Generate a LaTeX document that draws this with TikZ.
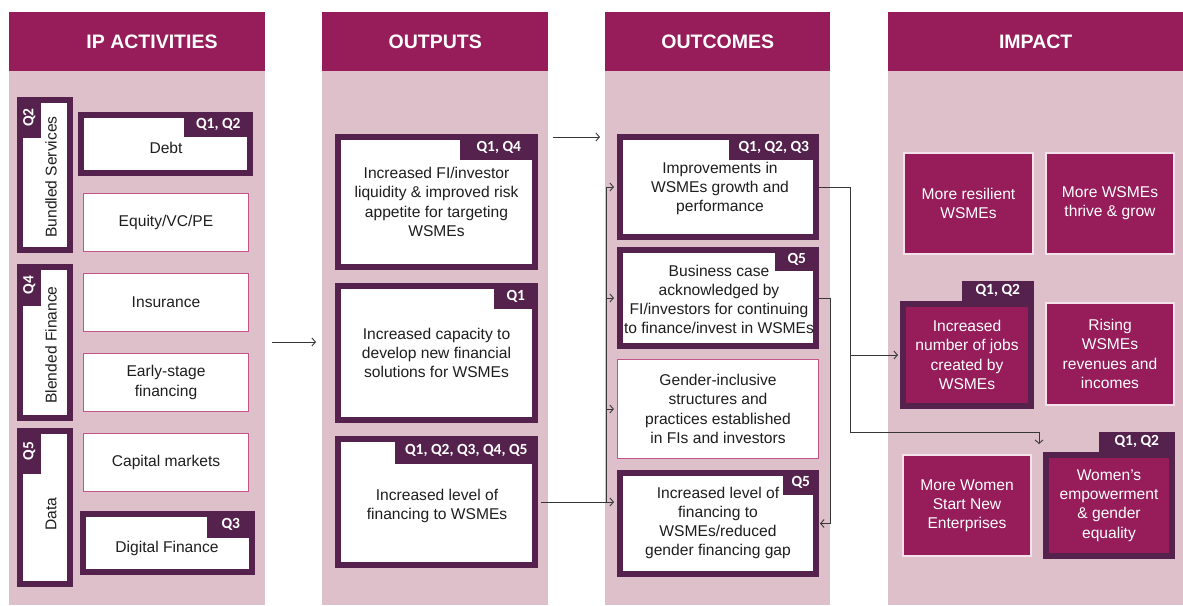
\documentclass[tikz,border=0pt]{standalone}
\usepackage{fontspec}
\usepackage{graphicx}
\setmainfont{Liberation Sans}
\newfontfamily\tabfont{Carlito}
\usetikzlibrary{arrows.meta}

\definecolor{hdrmag}{RGB}{150,28,90}
\definecolor{bodypink}{RGB}{222,192,202}
\definecolor{framedark}{RGB}{85,34,77}
\definecolor{boxedge}{RGB}{196,85,138}
\definecolor{linegray}{RGB}{55,55,55}
\definecolor{txtdark}{RGB}{30,30,30}
\definecolor{impedge}{RGB}{245,225,235}

\newcommand\bxfont{\fontsize{15.6}{19.2}\selectfont}
\newcommand\qfont{\tabfont\bfseries\fontsize{15.5}{17}\selectfont}

\tikzset{
  colbody/.style={fill=bodypink, draw=none, anchor=north west, inner sep=0pt},
  hdr/.style={fill=hdrmag, draw=none, anchor=north west, inner sep=0pt, minimum height=59pt},
  hdrtxt/.style={text=white, font=\fontsize{19.5}{22}\selectfont\bfseries, inner sep=0pt},
  fbox/.style={fill=white, draw=framedark, line width=6pt, inner sep=0pt, align=center, text=txtdark, font=\bxfont},
  wbox/.style={fill=white, draw=boxedge, line width=1.2pt, inner sep=0pt, align=center, text=txtdark, font=\bxfont, minimum width=165pt, minimum height=58pt},
  txt/.style={text=txtdark, font=\bxfont, align=center, inner sep=0pt},
  qtab/.style={fill=framedark, inner sep=0pt, text=white, font=\qfont, anchor=north east},
  vtab/.style={fill=framedark, inner sep=0pt, text=white, font=\qfont, anchor=north west, minimum width=24pt},
  imp/.style={fill=hdrmag, draw=impedge, line width=1.2pt, inner sep=0pt, align=center, text=white, font=\bxfont},
  ifbox/.style={fill=hdrmag, draw=framedark, line width=6pt, inner sep=0pt, align=center, text=white, font=\bxfont},
  ln/.style={draw=linegray, line width=0.9pt},
  arr/.style={draw=linegray, line width=0.9pt, -{Straight Barb[length=3.5pt,width=8pt]}},
}

\begin{document}
\begin{tikzpicture}[x=1pt, y=-1pt]
\useasboundingbox (0,0) rectangle (1183,605);

% column bodies and headers
\node[colbody, minimum width=256pt, minimum height=534pt] (colA) at (9,71) {};
\node[colbody, minimum width=226pt, minimum height=534pt] (colB) at (322,71) {};
\node[colbody, minimum width=225pt, minimum height=534pt] (colC) at (605,71) {};
\node[colbody, minimum width=295pt, minimum height=534pt] (colD) at (888,71) {};
\node[hdr, minimum width=256pt] (hA) at (9,12) {};
\node[hdr, minimum width=226pt] (hB) at (322,12) {};
\node[hdr, minimum width=225pt] (hC) at (605,12) {};
\node[hdr, minimum width=295pt] (hD) at (888,12) {};
\node[hdrtxt] (hAt) at (152,42) {IP ACTIVITIES};
\node[hdrtxt] (hBt) at (hB.center) {OUTPUTS};
\node[hdrtxt] (hCt) at (hC.center) {OUTCOMES};
\node[hdrtxt] (hDt) at (hD.center) {IMPACT};

% activity groups (vertical)
\node[fbox, minimum width=50pt, minimum height=150pt] (bs) at (45,175) {};
\node[fbox, minimum width=50pt, minimum height=151pt] (bf) at (45,342.5) {};
\node[fbox, minimum width=50pt, minimum height=153pt] (dt) at (45,507.5) {};
\node[vtab, minimum height=41pt] (bsq) at (bs.north west) {\rotatebox{90}{Q2}};
\node[vtab, minimum height=42pt] (bfq) at (bf.north west) {\rotatebox{90}{Q4}};
\node[vtab, minimum height=46pt] (dtq) at (dt.north west) {\rotatebox{90}{Q5}};
\node[txt, rotate=90] (bsT) at (51,177) {Bundled Services};
\node[txt, rotate=90] (bfT) at (51,345) {Blended Finance};
\node[txt, rotate=90] (dtT) at (51,514) {Data};

% activities
\node[fbox, minimum width=169pt, minimum height=58pt] (debt) at (165.5,144) {};
\node[qtab, minimum width=69pt, minimum height=25pt] (debtq) at (debt.north east) {Q1, Q2};
\node[txt] (debtT) at (166,148) {Debt};
\node[wbox] (equity) at (166,222.5) {Equity/VC/PE};
\node[wbox] (insur) at (166,302.5) {Insurance};
\node[wbox] (early) at (166,382.5) {Early-stage\\financing};
\node[wbox] (capm) at (166,462.5) {Capital markets};
\node[fbox, minimum width=169pt, minimum height=58pt] (digi) at (167.5,543) {};
\node[qtab, minimum width=48pt, minimum height=27pt] (digiq) at (digi.north east) {Q3};
\node[txt] (digiT) at (167,548) {Digital Finance};

% outputs
\node[fbox, minimum width=197pt, minimum height=130pt] (o1) at (436.5,202)
  {Increased FI/investor\\liquidity \& improved risk\\appetite for targeting\\WSMEs};
\node[qtab, minimum width=78pt, minimum height=26pt] (o1q) at (o1.north east) {Q1, Q4};
\node[fbox, minimum width=197pt, minimum height=134pt] (o2) at (436.5,353)
  {Increased capacity to\\develop new financial\\solutions for WSMEs};
\node[qtab, minimum width=44pt, minimum height=26pt] (o2q) at (o2.north east) {Q1};
\node[fbox, minimum width=197pt, minimum height=126pt] (o3) at (436.5,502) {};
\node[qtab, minimum width=143pt, minimum height=28pt] (o3q) at (o3.north east) {Q1, Q2, Q3, Q4, Q5};
\node[txt] (o3T) at (437,506) {Increased level of\\financing to WSMEs};

% outcomes
\node[fbox, minimum width=196pt, minimum height=100pt] (c1) at (718,187) {};
\node[qtab, minimum width=90pt, minimum height=26pt] (c1q) at (c1.north east) {Q1, Q2, Q3};
\node[txt] (c1T) at (720,188.5) {Improvements in\\WSMEs growth and\\performance};
\node[fbox, minimum width=196pt, minimum height=96pt] (c2) at (718,298) {};
\node[qtab, minimum width=44pt, minimum height=24pt] (c2q) at (c2.north east) {Q5};
\node[txt] (c2T) at (719,299.5) {Business case\\acknowledged by\\FI/investors for continuing\\to finance/invest in WSMEs};
\node[wbox, minimum width=201pt, minimum height=99pt] (c3) at (718,409)
  {Gender-inclusive\\structures and\\practices established\\in FIs and investors};
\node[fbox, minimum width=196pt, minimum height=101pt] (c4) at (718,523.5) {};
\node[qtab, minimum width=36pt, minimum height=25pt] (c4q) at (c4.north east) {Q5};
\node[txt] (c4T) at (718,523) {Increased level of\\financing to\\WSMEs/reduced\\gender financing gap};

% impact
\node[imp, minimum width=129pt, minimum height=101pt] (i1) at (968.5,203.5) {More resilient\\WSMEs};
\node[imp, minimum width=128pt, minimum height=101pt] (i2) at (1110,203.5) {More WSMEs\\thrive \& grow};
\node[ifbox, minimum width=128pt, minimum height=102pt] (i3) at (967,355) {Increased\\number of jobs\\created by\\WSMEs};
\node[qtab, anchor=south east, minimum width=72pt, minimum height=20pt] (i3q) at (i3.north east) {Q1, Q2};
\node[imp, minimum width=128pt, minimum height=102pt] (i4) at (1110,354) {Rising\\WSMEs\\revenues and\\incomes};
\node[imp, line width=2.4pt, minimum width=128pt, minimum height=101pt] (i5) at (967,505.5) {More Women\\Start New\\Enterprises};
\node[ifbox, minimum width=126pt, minimum height=101pt] (i6) at (1109,505.5) {Women’s\\empowerment\\\& gender\\equality};
\node[qtab, anchor=south east, minimum width=76pt, minimum height=20pt] (i6q) at (i6.north east) {Q1, Q2};

% connectors
\coordinate (a1) at (272,342);
\coordinate (a2) at (316,342);
\draw[arr] (a1) -- (a2);
\coordinate (b1) at (553,137);
\coordinate (b2) at (600,137);
\draw[arr] (b1) -- (b2);

\coordinate (bus) at (606,0);
\draw[arr, shorten <=3pt, shorten >=3pt] (o3.east) -- (o3.east -| c4.west);
\draw[ln] (bus |- c1.west) -- (bus |- o3.east);
\draw[arr, shorten >=3pt] (bus |- c1.west) -- (c1.west);
\draw[arr, shorten >=3pt] (bus |- c2.west) -- (c2.west);
\draw[arr, shorten >=3pt] (bus |- c3.west) -- (c3.west);

\coordinate (jx) at (850,432);
\coordinate (wtip) at (1039,444);
\draw[arr] (c1.east) -| (jx) -| (wtip);
\draw[arr, shorten >=2pt] (jx |- i3.west) -- (i3.west);
\draw[arr, shorten >=1pt] (c2.east) -- ++(11,0) |- (c4.east);
\end{tikzpicture}
\end{document}
